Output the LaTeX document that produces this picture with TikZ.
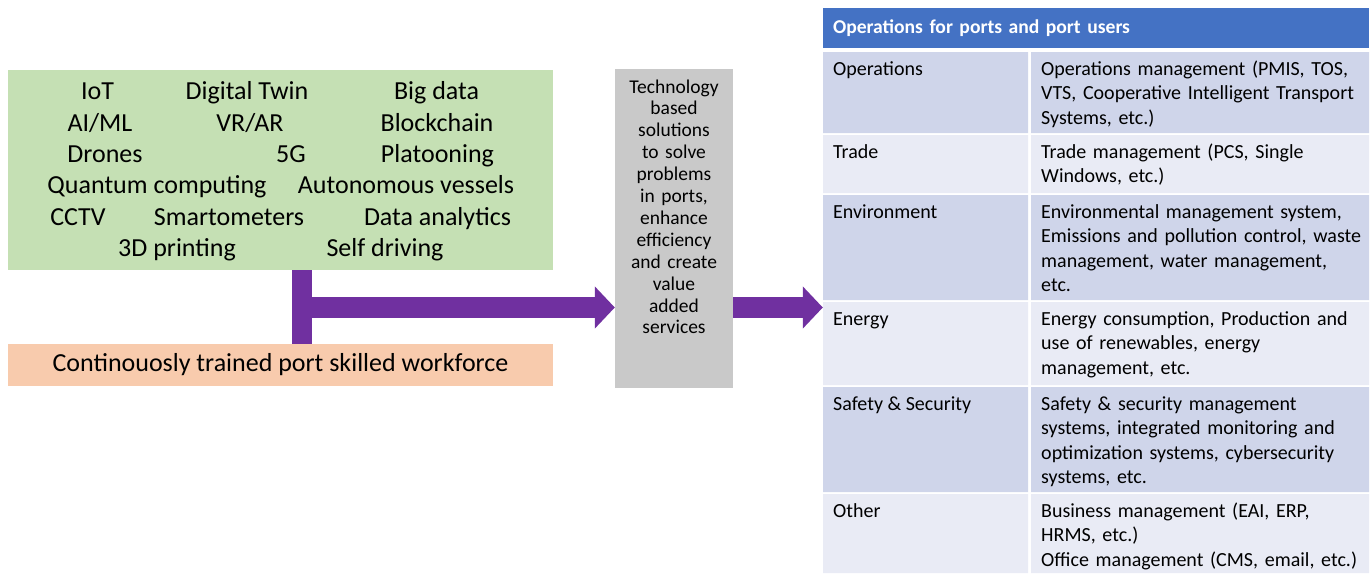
\documentclass[tikz,border=0pt]{standalone}
\usepackage{fontspec}
\setmainfont{Carlito}
\usetikzlibrary{arrows.meta}

\definecolor{techgreen}{HTML}{C5E0B4}
\definecolor{skillorange}{HTML}{F8CBAD}
\definecolor{arrowpurple}{HTML}{7030A0}
\definecolor{solgray}{HTML}{C9C9C9}
\definecolor{hdrblue}{HTML}{4472C4}
\definecolor{banddark}{HTML}{CFD5EA}
\definecolor{bandlight}{HTML}{E9EBF5}

\begin{document}
\begin{tikzpicture}[
    x=1pt, y=-1pt,
    techbox/.style={rectangle, fill=techgreen, minimum width=545pt, minimum height=200pt},
    techword/.style={anchor=base, inner sep=0pt, font=\fontsize{26}{31}\selectfont},
    skillbox/.style={rectangle, fill=skillorange, minimum width=545pt, minimum height=42pt, font=\fontsize{26}{31}\selectfont},
    solbox/.style={rectangle, fill=solgray, minimum width=118pt, minimum height=319pt},
    soltext/.style={anchor=base, inner sep=0pt, text width=116pt, align=center, font=\fontsize{19.5}{21.9}\selectfont},
    pbar/.style={draw=arrowpurple, line width=20.5pt},
    parrow/.style={draw=arrowpurple, line width=21pt, -{Triangle[length=20pt, width=41pt]}},
    hdr/.style={rectangle, fill=hdrblue, text=white, minimum width=546pt, minimum height=40pt, inner xsep=10pt, text width=526pt, align=left, font=\bfseries\fontsize{19.6}{24}\selectfont},
    cella/.style={anchor=base west, inner sep=0pt, font=\fontsize{20}{24.5}\selectfont},
    cellb/.style={anchor=base west, inner sep=0pt, text width=330pt, align=left, font=\fontsize{20}{24.5}\selectfont}
]
\useasboundingbox (0,0) rectangle (1372,574);

% Technologies
\node[techbox] (techs) at (280.5,170) {};
\node[techword] (iot) at (97.5,99) {IoT};
\node[techword] (twin) at (247,99) {Digital Twin};
\node[techword] (bigdata) at (436.5,99) {Big data};
\node[techword] (aiml) at (100,131) {AI/ML};
\node[techword] (vrar) at (250,131) {VR/AR};
\node[techword] (chain) at (437,131) {Blockchain};
\node[techword] (drones) at (105,162) {Drones};
\node[techword] (fiveg) at (291,162) {5G};
\node[techword] (platoon) at (437.5,162) {Platooning};
\node[techword] (quantum) at (157,193) {Quantum computing};
\node[techword] (vessels) at (406,193) {Autonomous vessels};
\node[techword] (cctv) at (78,225) {CCTV};
\node[techword] (smart) at (229,225) {Smartometers};
\node[techword] (analytics) at (437.5,225) {Data analytics};
\node[techword] (printing) at (177,256) {3D printing};
\node[techword] (selfdrive) at (385,256) {Self driving};

% Workforce
\node[skillbox] (skills) at (280.5,365) {Continouosly trained port skilled workforce};

% Solutions
\node[solbox] (sol) at (674,228.5) {};
\node[soltext] (soltxt) at (674,93) {Technology\\ based\\ solutions\\ to solve\\ problems\\ in ports,\\ enhance\\ efficiency\\ and create\\ value\\ added\\ services};

% Table header
\node[hdr] (hdr) at (1096,28) {Operations for ports and port users};

% Table rows
\fill[banddark] (823,52) rectangle (1028,133) (1031,52) rectangle (1369,133);
\fill[bandlight] (823,135) rectangle (1028,193) (1031,135) rectangle (1369,193);
\fill[banddark] (823,195) rectangle (1028,300) (1031,195) rectangle (1369,300);
\fill[bandlight] (823,302) rectangle (1028,385) (1031,302) rectangle (1369,385);
\fill[banddark] (823,387) rectangle (1028,492) (1031,387) rectangle (1369,492);
\fill[bandlight] (823,494) rectangle (1028,573) (1031,494) rectangle (1369,573);

\node[cella] (ops) at (833,75) {Operations};
\node[cellb] (opsdesc) at (1041,75) {Operations management (PMIS, TOS,\\ VTS, Cooperative Intelligent Transport\\ Systems, etc.)};
\node[cella] (trade) at (833,158) {Trade};
\node[cellb] (tradedesc) at (1041,158) {Trade management (PCS, Single\\ Windows, etc.)};
\node[cella] (env) at (833,218) {Environment};
\node[cellb] (envdesc) at (1041,218) {Environmental management system,\\ Emissions and pollution control, waste\\ management, water management,\\ etc.};
\node[cella] (energy) at (833,325) {Energy};
\node[cellb] (energydesc) at (1041,325) {Energy consumption, Production and\\ use of renewables, energy\\ management, etc.};
\node[cella] (safety) at (833,410) {Safety \& Security};
\node[cellb] (safetydesc) at (1041,410) {Safety \& security management\\ systems, integrated monitoring and\\ optimization systems, cybersecurity\\ systems, etc.};
\node[cella] (other) at (833,517) {Other};
\node[cellb] (otherdesc) at (1041,517) {Business management (EAI, ERP,\\ HRMS, etc.)\\ Office management (CMS, email, etc.)};

% Arrows
\coordinate (junc) at (302,307.5);
\draw[pbar] (junc |- techs.south) -- (junc |- skills.north);
\draw[parrow] (junc) -- (junc -| sol.west);
\draw[parrow] (junc -| sol.east) -- (junc -| hdr.west);
\end{tikzpicture}
\end{document}
